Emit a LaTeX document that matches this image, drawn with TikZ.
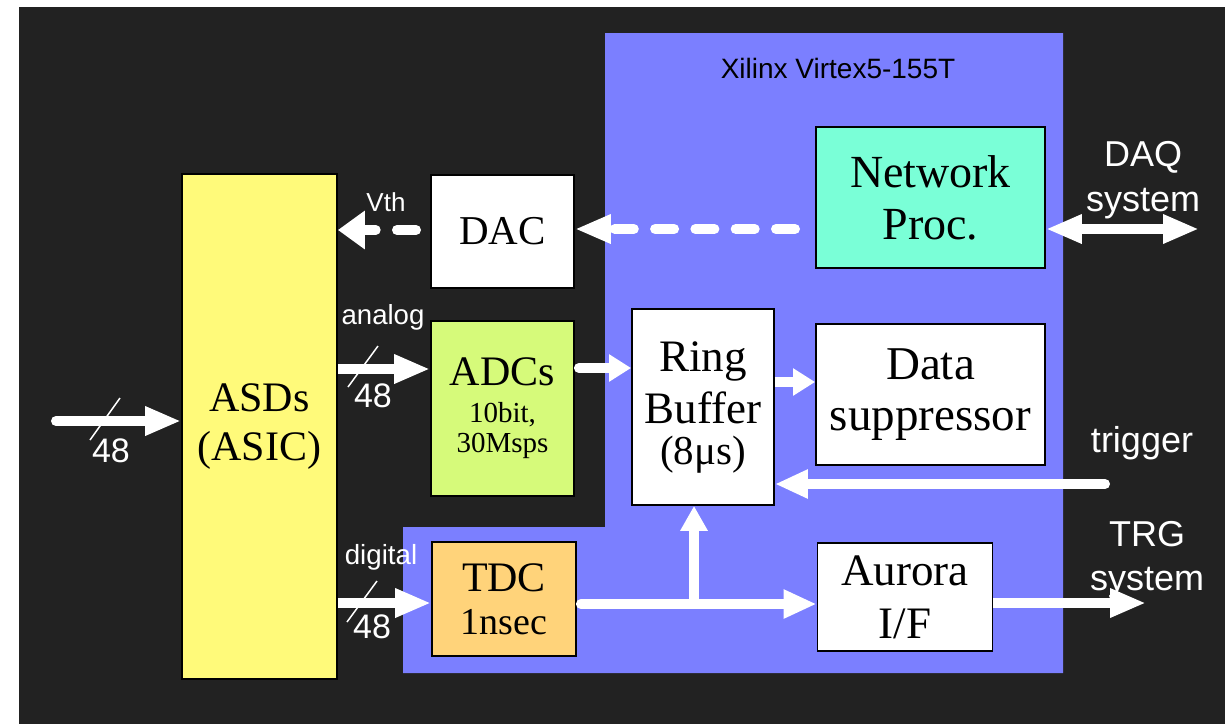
\documentclass[tikz,border=0pt]{standalone}
\usepackage{fontspec}
\setmainfont{Liberation Serif}
\newfontfamily\labfont{Liberation Sans}
\usetikzlibrary{arrows.meta}
\definecolor{bgdark}{RGB}{34,34,34}
\definecolor{fpgablue}{RGB}{123,127,255}
\definecolor{asdyellow}{RGB}{255,250,122}
\definecolor{adcgreen}{RGB}{214,250,122}
\definecolor{tdcorange}{RGB}{255,211,122}
\definecolor{netaqua}{RGB}{122,255,215}
\newcommand{\fsz}[2]{\fontsize{#1}{#2}\selectfont}

\begin{document}
\begin{tikzpicture}[x=1pt,y=-1pt,
  block/.style={draw=black,line width=1.8pt,inner sep=0pt,align=center,text=black},
  lab/.style={text=white,inner sep=0pt,align=center},
  bus/.style={white,line width=10pt},
  rbus/.style={bus,line cap=round},
  dbus/.style={bus,line cap=round,dash pattern=on 19pt off 21.3pt},
  bigtip/.style={-{Triangle[length=36pt,width=27pt]}},
  midtip/.style={-{Triangle[length=33pt,width=27pt]}},
  smalltip/.style={-{Triangle[length=22pt,width=26pt]}},
  widetip/.style={-{Triangle[length=27pt,width=37pt]}},
  slash/.style={white,line width=1.5pt}
]
\useasboundingbox (0,0) rectangle (1225,724);
\fill[white] (0,0) rectangle (1225,724);
\fill[bgdark] (19,7) rectangle (1225,724);

% FPGA area
\fill[fpgablue] (605,33) -- (1063,33) -- (1063,673) -- (403,673) -- (403,527) -- (605,527) -- cycle;
\node[lab,anchor=base,text=black,font=\labfont\fsz{28}{28}] (xil) at (838,78) {Xilinx Virtex5-155T};

% blocks
\node[block,fill=asdyellow,minimum width=155pt,minimum height=505pt,font=\fsz{42}{49}] (asd) at (259.5,426.5) {ASDs\\(ASIC)};
\node[block,fill=white,minimum width=143pt,minimum height=113pt,font=\fsz{41}{41}] (dac) at (502.5,231.5) {DAC};
\node[block,fill=adcgreen,minimum width=143pt,minimum height=175pt,font=\fsz{29}{30}] (adc) at (502.5,408.5) {{\fsz{42}{42}ADCs}\\[7pt]10bit,\\30Msps};
\node[block,fill=tdcorange,minimum width=144pt,minimum height=114pt,font=\fsz{42}{43}] (tdc) at (504,599) {TDC\\{\fsz{38}{38}1nsec}};
\node[block,fill=white,minimum width=142pt,minimum height=196pt,font=\fsz{45}{52}] (ring) at (703,407) {Ring\\Buffer\\[-11pt]{\fsz{41}{41}(8μs)}};
\node[block,fill=netaqua,minimum width=229pt,minimum height=141pt,font=\fsz{46}{52}] (net) at (930.5,197.5) {Network\\Proc.};
\node[block,fill=white,minimum width=229pt,minimum height=141pt,font=\fsz{47}{51}] (supp) at (930.5,394.5) {Data\\suppressor};
\node[block,fill=white,minimum width=175pt,minimum height=108pt,font=\fsz{45}{53}] (aur) at (905,597) {Aurora\\I/F};

% external labels
\node[lab,anchor=base,font=\labfont\fsz{26}{26}] (vth) at (386,211) {Vth};
\node[lab,anchor=base,font=\labfont\fsz{27.6}{28}] (ana) at (383,324) {analog};
\node[lab,anchor=base,font=\labfont\fsz{27.7}{28}] (dig) at (381,564) {digital};
\node[lab,anchor=base,font=\labfont\fsz{34}{34}] (nin) at (111,462) {48};
\node[lab,anchor=base,font=\labfont\fsz{34}{34}] (nana) at (373,407) {48};
\node[lab,anchor=base,font=\labfont\fsz{34}{34}] (ndig) at (372,638) {48};
\node[lab,anchor=north,font=\labfont\fsz{36}{45}] (daq) at (1143,141) {DAQ\\system};
\node[lab,anchor=base,font=\labfont\fsz{36}{36}] (trg) at (1142,452) {trigger};
\node[lab,anchor=north,font=\labfont\fsz{36}{44}] (trgsys) at (1147,521) {TRG\\system};

% free ends of connectors
\coordinate (inS) at (56,421);
\coordinate (trigS) at (1105,484);
\coordinate (netS) at (795,229);
\coordinate (vthS) at (416,230);
\coordinate (br) at (694,604);
\coordinate (trgE) at (1146,603);
\coordinate (daqE) at (1199,229);

% connectors
\draw[rbus,bigtip] (inS) -- (inS -| asd.west);
\draw[bus,bigtip] (asd.east |- 0,369) -- (adc.west |- 0,369);
\draw[bus,bigtip] (asd.east |- 0,603) -- (tdc.west |- 0,603);
\draw[dbus,widetip] (vthS) -- (asd.east |- vthS);
\draw[dbus,bigtip] (netS) -- (dac.east |- netS);
\draw[rbus,smalltip] ([xshift=4pt]adc.east |- 0,368) -- (ring.west |- 0,368);
\draw[bus,smalltip] (ring.east |- 0,382) -- (supp.west |- 0,382);
\draw[rbus,midtip] (trigS) -- (ring.east |- trigS);
\draw[rbus,midtip] ([xshift=4pt]tdc.east |- br) -- (aur.west |- br);
\draw[bus,-{Triangle[length=25pt,width=26pt]}] (br) -- (br |- ring.south);
\draw[bus,bigtip] (aur.east |- trgE) -- (trgE);
\draw[bus,{Triangle[length=36pt,width=27pt]}-{Triangle[length=36pt,width=27pt]}] (net.east |- daqE) -- (daqE);

% bus width marks
\coordinate (s1a) at (90,440);  \coordinate (s1b) at (120,398);
\coordinate (s2a) at (348,387); \coordinate (s2b) at (378,346);
\coordinate (s3a) at (347,622); \coordinate (s3b) at (377,581);
\draw[slash] (s1a) -- (s1b);
\draw[slash] (s2a) -- (s2b);
\draw[slash] (s3a) -- (s3b);
\end{tikzpicture}
\end{document}
